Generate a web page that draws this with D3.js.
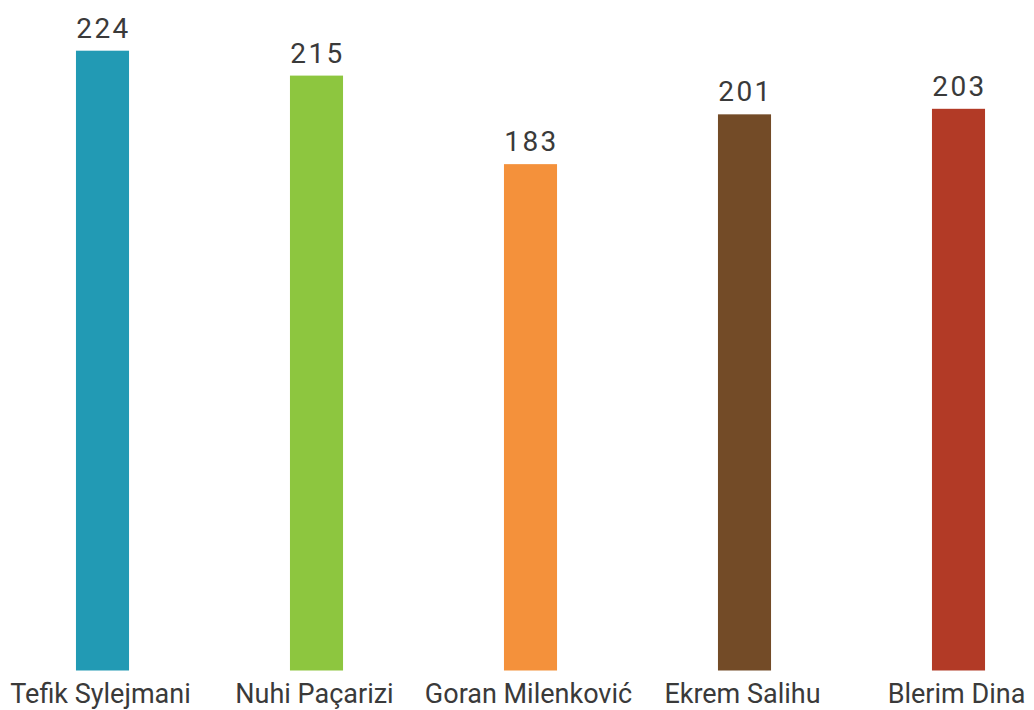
<!DOCTYPE html>
<html>
<head>
<meta charset="utf-8">
<script src="https://cdn.jsdelivr.net/npm/d3@7"></script>
<style>
  html, body { margin: 0; padding: 0; background: #fff; }
  svg text { font-family: Roboto, "Noto Sans", sans-serif; fill: #3a3a3a; }
</style>
</head>
<body>
<div id="chart"></div>
<script>
// chart data
const names = ["Tefik Sylejmani", "Nuhi Paçarizi", "Goran Milenković", "Ekrem Salihu", "Blerim Dina"];
const votes = [224, 215, 183, 201, 203];
const colors = ["#229ab4", "#8dc63f", "#f4913b", "#734b27", "#b23a26"];

const W = 1034, H = 710;
const baseline = 670.5;

const svg = d3.select("#chart")
    .append("svg")
    .attr("width", W)
    .attr("height", H);

const x = d3.scaleBand()
    .domain(names)
    .range([-4.5, 1065.5])
    .paddingInner(0.752)
    .paddingOuter(0.376);

const y = d3.scaleLinear()
    .domain([0, 224])
    .range([baseline, 50.7]);

const data = names.map((n, i) => ({ name: n, value: votes[i], color: colors[i] }));

svg.selectAll(".bar")
    .data(data)
    .enter().append("rect")
    .attr("class", "bar")
    .attr("x", d => x(d.name))
    .attr("y", d => y(d.value))
    .attr("width", x.bandwidth())
    .attr("height", d => baseline - y(d.value))
    .attr("fill", d => d.color);

// value labels
svg.selectAll(".val")
    .data(data)
    .enter().append("text")
    .attr("class", "val")
    .attr("x", d => x(d.name) + x.bandwidth() / 2 + 1)
    .attr("y", d => y(d.value) - 13)
    .attr("text-anchor", "middle")
    .style("font-size", "28px")
    .style("letter-spacing", "2.5px")
    .text(d => d.value);

// category labels along the bottom
svg.selectAll(".cat")
    .data(data)
    .enter().append("text")
    .attr("class", "cat")
    .attr("x", d => x(d.name) + x.bandwidth() / 2 - 2)
    .attr("y", 703)
    .attr("text-anchor", "middle")
    .style("font-size", "27px")
    .text(d => d.name);
</script>
</body>
</html>
